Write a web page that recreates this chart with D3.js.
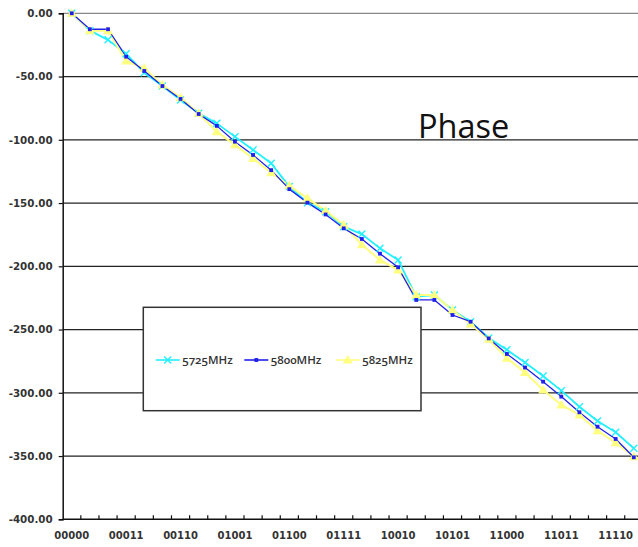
<!DOCTYPE html>
<html>
<head>
<meta charset="utf-8">
<script src="https://cdn.jsdelivr.net/npm/d3@7"></script>
<style>
html,body{margin:0;padding:0;background:#fff;}
svg{display:block;}
</style>
</head>
<body>
<svg id="chart" width="638" height="547"></svg>
<script>
const categories = ["00000","00001","00010","00011","00100","00101","00110","00111",
  "01000","01001","01010","01011","01100","01101","01110","01111",
  "10000","10001","10010","10011","10100","10101","10110","10111",
  "11000","11001","11010","11011","11100","11101","11110","11111"];
const labelEvery = 3;
const yTicks = [0,-50,-100,-150,-200,-250,-300,-350,-400];
const seriesNames = ["5725MHz","5800MHz","5825MHz"];
const s5725 = [0,-13.7,-21,-32,-47,-57.5,-68.5,-79,-87,-97.5,-108,-118.6,-137,-149.7,-156.8,-168.7,
  -174.5,-185.8,-195,-224,-222.7,-234.5,-243.8,-256.7,-266,-276,-286.7,-298.3,-311,-322.3,-331.2,-343.9];
const s5800 = [0,-12.6,-12.6,-34.3,-45.6,-57.5,-67.7,-79.6,-89,-101.5,-112,-124,-139,-149.7,-159,-170,
  -178.4,-190,-200.8,-226.6,-226.6,-238.5,-243.8,-257,-269.3,-280,-291.2,-303,-315.4,-326.8,-336.5,-351];
const s5825 = [0,-13.7,-13.7,-37.7,-43.5,-56.7,-66.7,-79,-93.6,-104,-114.7,-126,-136.3,-146.3,-156,-167.4,
  -183,-195,-203,-222.7,-222.7,-234.5,-245.6,-257.7,-272.7,-284,-297.8,-309.6,-317.5,-330,-339.4,-350.5];
const titleText = "Phase";

const svg = d3.select("#chart");
const mLeft = 62.7, mTop = 13.3, mBottom = 519.3;
const bw = 18.13;
const x = d3.scaleBand().domain(categories).range([mLeft, mLeft + bw*categories.length]).padding(0);
const y = d3.scaleLinear().domain([-400,0]).range([mBottom, mTop]);
const cx = c => x(c) + x.bandwidth()/2;

// gridlines
svg.append("g").selectAll("line").data(yTicks.filter(d=>d>-400)).join("line")
  .attr("x1", mLeft).attr("x2", 638)
  .attr("y1", d=>y(d)).attr("y2", d=>y(d))
  .attr("stroke", d=> d===0 ? "#888" : "#222").attr("stroke-width", 1.3);

// y axis
const yAxis = d3.axisLeft(y).tickValues(yTicks).tickSize(4).tickPadding(6)
  .tickFormat(d => d.toFixed(2));
const gy = svg.append("g").attr("transform", `translate(${mLeft},0)`).call(yAxis);
gy.select(".domain").attr("stroke","#111").attr("stroke-width",1.5);
gy.selectAll(".tick line").attr("stroke","#111").attr("stroke-width",1.2);
gy.selectAll("text").attr("font-family","DejaVu Sans").attr("font-weight","bold")
  .attr("font-size","10.3px").attr("fill","#333");

// x axis
const xAxis = d3.axisBottom(x).tickValues(categories.filter((c,i)=>i%labelEvery===0))
  .tickSize(0).tickPadding(13);
const gx = svg.append("g").attr("transform", `translate(0,${mBottom})`).call(xAxis);
gx.select(".domain").remove();
gx.selectAll("text").attr("font-family","DejaVu Sans").attr("font-weight","bold")
  .attr("font-size","10px").attr("fill","#333");
svg.append("line").attr("x1", mLeft).attr("x2", 638).attr("y1", mBottom).attr("y2", mBottom)
  .attr("stroke","#111").attr("stroke-width",1.5);
svg.append("g").selectAll("line").data(categories.slice(1).concat(["__end"])).join("line")
  .attr("x1", (d,i)=> i<categories.length-1 ? x(d) : x.range()[1])
  .attr("x2", (d,i)=> i<categories.length-1 ? x(d) : x.range()[1])
  .attr("y1", mBottom).attr("y2", mBottom-4)
  .attr("stroke","#111").attr("stroke-width",1.2);

// title
svg.append("text").attr("x", 418).attr("y", 138).text(titleText)
  .attr("font-family","Open Sans").attr("font-size","32.5px").attr("fill","#111");

// series
const series = [
  {name: seriesNames[0], values: s5725, color:"#22f0ff", marker:"x", w:1.8},
  {name: seriesNames[2], values: s5825, color:"#ffff80", marker:"tri", w:2},
  {name: seriesNames[1], values: s5800, color:"#2020ee", marker:"sq", w:1.3}
];
const line = d3.line().x((d,i)=>cx(categories[i])).y(d=>y(d));
function drawMarker(g, type, color){
  if(type==="x"){
    g.append("path").attr("d","M-3.5,-3.5L3.5,3.5M-3.5,3.5L3.5,-3.5").attr("stroke",color).attr("stroke-width",1.4).attr("fill","none");
  } else if(type==="sq"){
    g.append("rect").attr("x",-1.9).attr("y",-1.9).attr("width",3.8).attr("height",3.8).attr("fill",color);
  } else {
    g.append("path").attr("d","M0,-5L5,3.5L-5,3.5Z").attr("fill",color);
  }
}
series.forEach(s=>{
  svg.append("path").datum(s.values).attr("d", line).attr("fill","none")
    .attr("stroke", s.color).attr("stroke-width", s.w).attr("stroke-linejoin","round");
});
series.forEach(s=>{
  const g = svg.append("g");
  s.values.forEach((v,i)=>{
    const m = g.append("g").attr("transform",`translate(${cx(categories[i])},${y(v)})`);
    drawMarker(m, s.marker, s.color);
  });
});

// legend
const lg = svg.append("g");
lg.append("rect").attr("x",143.3).attr("y",307.3).attr("width",277.7).attr("height",103.4)
  .attr("fill","#fff").attr("stroke","#333").attr("stroke-width",1.5);
const legendItems = [
  {name: seriesNames[0], color:"#22f0ff", marker:"x", x:155.7},
  {name: seriesNames[1], color:"#2020ee", marker:"sq", x:244.3},
  {name: seriesNames[2], color:"#ffff80", marker:"tri", x:335.7}
];
legendItems.forEach(it=>{
  const ly = 360;
  lg.append("line").attr("x1", it.x).attr("x2", it.x+24).attr("y1", ly).attr("y2", ly)
    .attr("stroke", it.color).attr("stroke-width",1.6);
  const m = lg.append("g").attr("transform",`translate(${it.x+12},${ly})`);
  drawMarker(m, it.marker, it.color);
  lg.append("text").attr("x", it.x+26.5).attr("y", ly+4).text(it.name)
    .attr("font-family","Open Sans").attr("font-size","11.5px").attr("font-weight","600").attr("fill","#333")
    .style("font-variant-numeric","oldstyle-nums");
});
</script>
</body>
</html>
